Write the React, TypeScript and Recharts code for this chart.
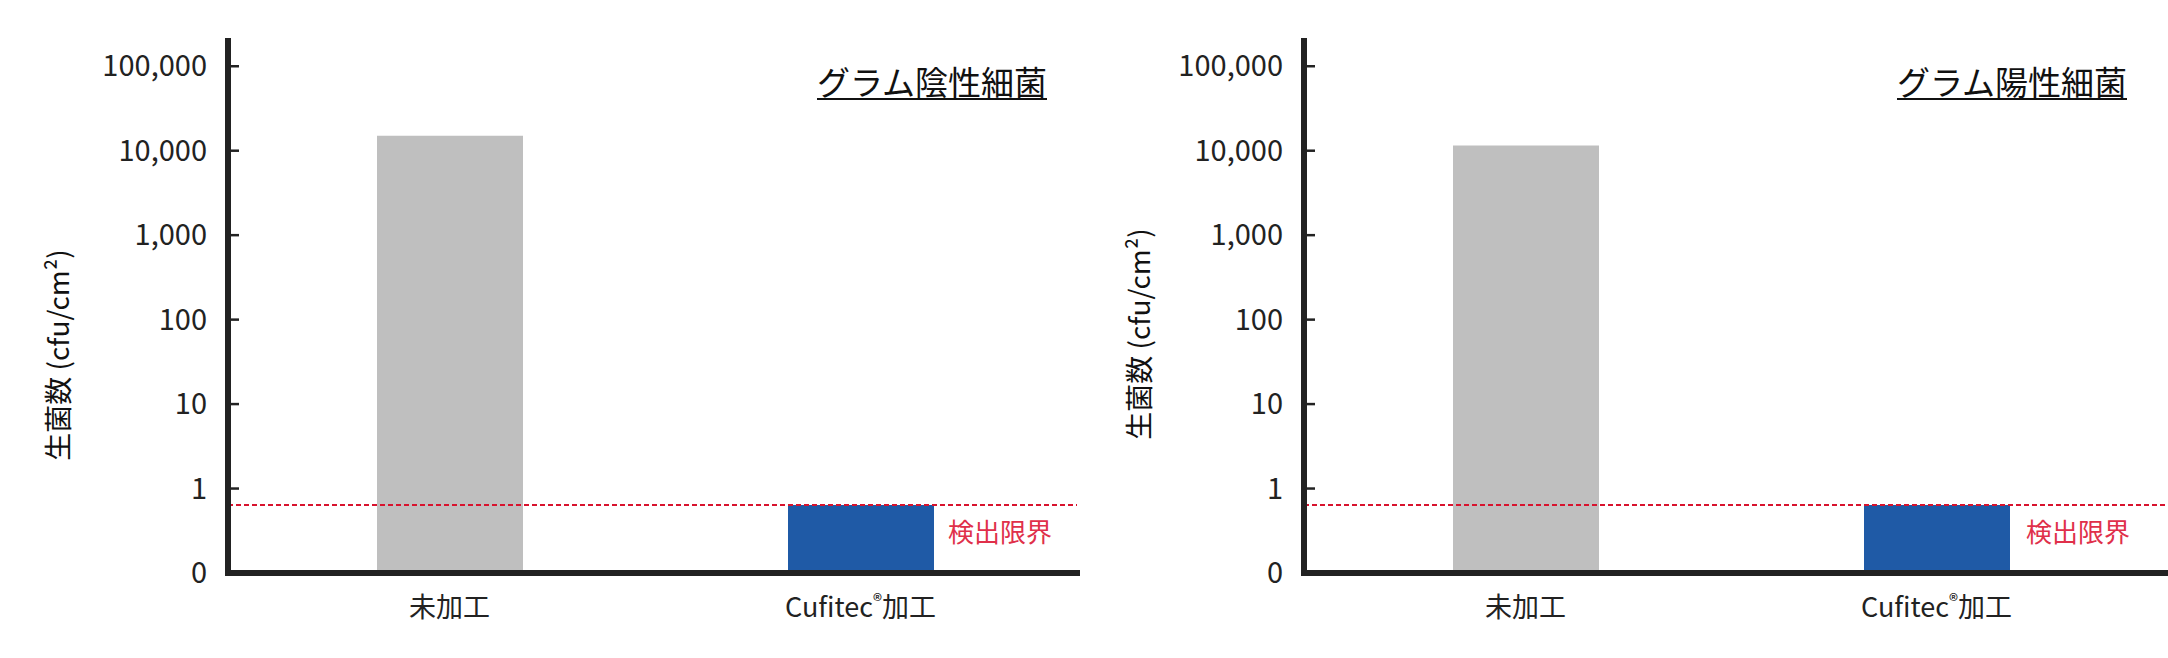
import { BarChart, Bar, XAxis, YAxis, Cell, ReferenceLine } from 'recharts'

const categories = ['未加工', 'Cufitec®加工']
const gramNegative = [15000, 0.64]
const gramPositive = [11500, 0.64]
const detectionLimit = 0.64
const yTicks = [0.1, 1, 10, 100, 1000, 10000, 100000]
const yTickLabels = ['0', '1', '10', '100', '1,000', '10,000', '100,000']
const barColors = ['#bfbfbf', '#1f5aa6']

const FONT = "'Noto Sans CJK JP', 'Noto Sans', sans-serif"
const AXIS = '#222222'
const RED = '#d8132e'

const YTick = ({ x, y, payload }: any) => {
  const idx = yTicks.indexOf(payload.value)
  return (
    <g>
      {payload.value !== 0.1 && (
        <line x1={x + 24} x2={x + 32} y1={y} y2={y} stroke={AXIS} strokeWidth={2.5} />
      )}
      <text x={x} y={y} dy="0.35em" textAnchor="end" fontFamily={FONT} fontSize={29} fill="#222">
        {idx >= 0 ? yTickLabels[idx] : ''}
      </text>
    </g>
  )
}

const XTick = ({ x, y, payload }: any) => {
  const v: string = payload.value
  const parts = v.split('®')
  return (
    <text x={x} y={y + 35} dy="0.35em" textAnchor="middle" fontFamily={FONT} fontSize={27} fill="#222">
      {parts.length > 1 ? (
        <>
          <tspan>{parts[0]}</tspan>
          <tspan fontSize={19} dy={-9}>®</tspan>
          <tspan dy={9}>{parts[1]}</tspan>
        </>
      ) : (
        v
      )}
    </text>
  )
}

const LimitLabel = ({ viewBox, inset }: any) => (
  <text
    x={viewBox.x + viewBox.width - inset}
    y={viewBox.y + 28}
    dy="0.35em"
    textAnchor="end"
    fontFamily={FONT}
    fontSize={26}
    fill="#e0304a"
  >
    検出限界
  </text>
)

function Panel({ values, width, right, padRight, labelInset }: { values: number[]; width: number; right: number; padRight: number; labelInset: number }) {
  const data = categories.map((name, i) => ({ name, value: values[i] }))
  return (
    <BarChart width={width} height={658} data={data} margin={{ top: 38, right, bottom: 55, left: 0 }}>
      <XAxis
        dataKey="name"
        height={30}
        padding={{ left: 16, right: padRight }}
        axisLine={{ stroke: AXIS, strokeWidth: 6, strokeLinecap: 'square' }}
        tickLine={false}
        tickSize={0}
        tickMargin={0}
        tick={<XTick />}
      />
      <YAxis
        type="number"
        scale="log"
        domain={[0.1, 216000]}
        allowDataOverflow
        ticks={yTicks}
        interval={0}
        width={228}
        axisLine={{ stroke: AXIS, strokeWidth: 6 }}
        tickLine={false}
        tickSize={0}
        tickMargin={21}
        tick={<YTick />}
      />
      <Bar dataKey="value" barSize={146} isAnimationActive={false}>
        {data.map((d, i) => (
          <Cell key={d.name} fill={barColors[i]} />
        ))}
      </Bar>
      <ReferenceLine
        y={detectionLimit}
        stroke={RED}
        strokeWidth={2}
        strokeDasharray="5 3"
        label={<LimitLabel inset={labelInset} />}
      />
    </BarChart>
  )
}

const titleStyle = {
  position: 'absolute' as const,
  top: 65,
  fontFamily: FONT,
  fontSize: 33,
  lineHeight: '33px',
  color: '#111',
  borderBottom: '2px solid #111',
  whiteSpace: 'nowrap' as const,
}

const yLabelStyle = {
  position: 'absolute' as const,
  fontFamily: FONT,
  fontSize: 28,
  lineHeight: '28px',
  color: '#111',
  whiteSpace: 'nowrap' as const,
  transform: 'translate(-50%, -50%) rotate(-90deg)',
}

export default function App() {
  return (
    <div style={{ position: 'fixed', left: 0, top: 0, width: 2168, height: 658, background: '#fff', overflow: 'hidden' }}>
      <div style={{ position: 'absolute', left: 0, top: 0 }}>
        <Panel values={gramNegative} width={1100} right={23} padRight={11} labelInset={25} />
      </div>
      <div style={{ position: 'absolute', left: 1076, top: 0 }}>
        <Panel values={gramPositive} width={1092} right={0} padRight={26} labelInset={38} />
      </div>
      <div style={{ ...titleStyle, left: 817 }}>グラム陰性細菌</div>
      <div style={{ ...titleStyle, left: 1897 }}>グラム陽性細菌</div>
      <div style={{ ...yLabelStyle, left: 57, top: 355 }}>生菌数 (cfu/cm²)</div>
      <div style={{ ...yLabelStyle, left: 1138, top: 334 }}>生菌数 (cfu/cm²)</div>
    </div>
  )
}
